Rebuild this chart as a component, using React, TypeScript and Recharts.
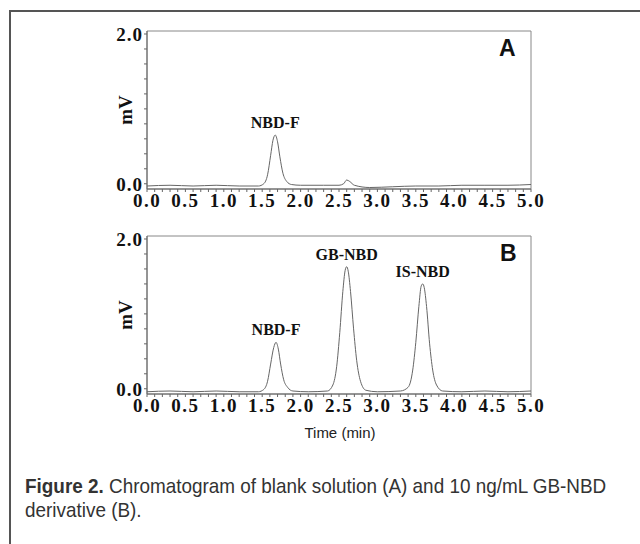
import React from 'react';
import { LineChart, Line, XAxis, YAxis, ReferenceArea, ReferenceDot } from 'recharts';

const timeA = [0, 0.3, 0.6, 0.9, 1.2, 1.45, 1.52, 1.57, 1.61, 1.64, 1.67, 1.7, 1.73, 1.77, 1.82, 1.88, 2.0, 2.3, 2.5, 2.56, 2.6, 2.64, 2.7, 2.9, 3.2, 3.5, 3.8, 4.1, 4.4, 4.7, 5.0];
const signalA = [-0.03, -0.02, -0.03, -0.02, -0.03, -0.03, 0.0, 0.12, 0.38, 0.58, 0.65, 0.56, 0.36, 0.14, 0.03, -0.01, -0.02, -0.02, -0.02, 0.0, 0.05, 0.03, -0.02, -0.05, -0.04, -0.03, -0.03, -0.02, -0.02, -0.02, -0.01];

const timeB = [0, 0.3, 0.6, 0.9, 1.2, 1.45, 1.52, 1.57, 1.61, 1.65, 1.68, 1.71, 1.74, 1.78, 1.83, 1.9, 2.1, 2.35, 2.42, 2.47, 2.51, 2.55, 2.58, 2.6, 2.62, 2.65, 2.69, 2.73, 2.78, 2.85, 3.0, 3.3, 3.4, 3.46, 3.5, 3.54, 3.57, 3.59, 3.61, 3.64, 3.68, 3.72, 3.77, 3.85, 4.1, 4.4, 4.7, 5.0];
const signalB = [-0.04, -0.03, -0.04, -0.03, -0.04, -0.04, -0.01, 0.1, 0.33, 0.55, 0.62, 0.53, 0.33, 0.12, 0.02, -0.03, -0.04, -0.03, 0.05, 0.3, 0.75, 1.3, 1.58, 1.63, 1.57, 1.3, 0.8, 0.38, 0.1, -0.02, -0.04, -0.03, 0.02, 0.25, 0.62, 1.1, 1.37, 1.4, 1.35, 1.1, 0.6, 0.25, 0.05, -0.03, -0.04, -0.03, -0.04, -0.03];

const xTicks = [0, 0.1, 0.2, 0.3, 0.4, 0.5, 0.6, 0.7, 0.8, 0.9, 1, 1.1, 1.2, 1.3, 1.4, 1.5, 1.6, 1.7, 1.8, 1.9, 2, 2.1, 2.2, 2.3, 2.4, 2.5, 2.6, 2.7, 2.8, 2.9, 3, 3.1, 3.2, 3.3, 3.4, 3.5, 3.6, 3.7, 3.8, 3.9, 4, 4.1, 4.2, 4.3, 4.4, 4.5, 4.6, 4.7, 4.8, 4.9, 5];
const xMajor = [0, 0.5, 1, 1.5, 2, 2.5, 3, 3.5, 4, 4.5, 5];
const yTicks = [0, 0.2, 0.4, 0.6, 0.8, 1, 1.2, 1.4, 1.6, 1.8, 2];
const yMajor = [0, 2];

const peakNamesA = ['NBD-F'];
const peakXA = [1.67];
const peakYA = [0.65];
const peakNamesB = ['NBD-F', 'GB-NBD', 'IS-NBD'];
const peakXB = [1.68, 2.6, 3.59];
const peakYB = [0.62, 1.63, 1.4];

const X_DOMAIN: [number, number] = [0, 5];
const Y_DOMAIN: [number, number] = [-0.07, 2.04];

const serifBold = { fontFamily: '"Liberation Serif", "DejaVu Serif", serif', fontWeight: 700 };

function isIn(v: number, arr: number[]) {
  return arr.some((a) => Math.abs(a - v) < 1e-6);
}

function Panel({ times, values, names, px, py, top }: { times: number[]; values: number[]; names: string[]; px: number[]; py: number[]; top: number }) {
  const data = times.map((t, i) => ({ t, v: values[i] }));
  return (
    <div style={{ position: 'absolute', left: 0, top }}>
      <LineChart width={640} height={221} data={data} margin={{ top: 31, right: 109, left: 0, bottom: 0 }}>
        <XAxis
          dataKey="t"
          type="number"
          domain={X_DOMAIN}
          ticks={xTicks}
          interval={0}
          tickSize={3}
          stroke="#666"
          height={32}
          tickFormatter={(v: number) => (isIn(v, xMajor) ? v.toFixed(1) : '')}
          tick={{ fill: '#111', fontSize: 19, letterSpacing: 1.5, ...serifBold }}
          tickMargin={2}
        />
        <YAxis
          type="number"
          domain={Y_DOMAIN}
          ticks={yTicks}
          interval={0}
          width={147}
          tickSize={3}
          stroke="#666"
          tickFormatter={(v: number) => (isIn(v, yMajor) ? v.toFixed(1) : '')}
          tick={{ fill: '#111', fontSize: 19, letterSpacing: 1, ...serifBold }}
          tickMargin={1}
          label={{ value: 'mV', angle: -90, position: 'insideRight', offset: 22, style: { fill: '#111', fontSize: 19, textAnchor: 'middle', ...serifBold } }}
        />
        <ReferenceArea x1={0} x2={5} y1={Y_DOMAIN[0]} y2={Y_DOMAIN[1]} fill="none" stroke="#888" strokeWidth={1} />
        <Line type="monotone" dataKey="v" stroke="#666" strokeWidth={1} dot={false} isAnimationActive={false} />
        {names.map((n, i) => (
          <ReferenceDot
            key={n}
            x={px[i]}
            y={py[i]}
            r={0}
            fill="none"
            stroke="none"
            label={{ value: n, position: 'top', offset: 7, style: { fill: '#111', fontSize: 16, ...serifBold } }}
          />
        ))}
      </LineChart>
    </div>
  );
}

export default function App() {
  const sans = '"Liberation Sans", Arial, sans-serif';
  const cap = { fontFamily: sans, fontSize: 21, lineHeight: '24px', color: '#333', whiteSpace: 'nowrap' as const, transform: 'scaleX(0.9)', transformOrigin: 'left top' };
  return (
    <div style={{ position: 'absolute', left: 0, top: 0, width: 640, height: 544, background: '#fff', overflow: 'hidden' }}>
      <div style={{ position: 'absolute', left: 9, top: 10, width: 640, height: 2, background: '#555' }} />
      <div style={{ position: 'absolute', left: 9, top: 10, width: 2, height: 540, background: '#555' }} />
      <Panel times={timeA} values={signalA} names={peakNamesA} px={peakXA} py={peakYA} top={0} />
      <Panel times={timeB} values={signalB} names={peakNamesB} px={peakXB} py={peakYB} top={205} />
      <div style={{ position: 'absolute', left: 499, top: 35, fontFamily: sans, fontWeight: 700, fontSize: 23, color: '#111' }}>A</div>
      <div style={{ position: 'absolute', left: 500, top: 240, fontFamily: sans, fontWeight: 700, fontSize: 23, color: '#111' }}>B</div>
      <div style={{ position: 'absolute', left: 0, width: 680, top: 424, textAlign: 'center', fontFamily: sans, fontSize: 15, color: '#222' }}>Time (min)</div>
      <div style={{ position: 'absolute', left: 25, top: 474, ...cap }}>
        <span style={{ fontWeight: 700 }}>Figure 2.</span> Chromatogram of blank solution (A) and 10 ng/mL GB-NBD
      </div>
      <div style={{ position: 'absolute', left: 25, top: 498, ...cap }}>derivative (B).</div>
    </div>
  );
}
